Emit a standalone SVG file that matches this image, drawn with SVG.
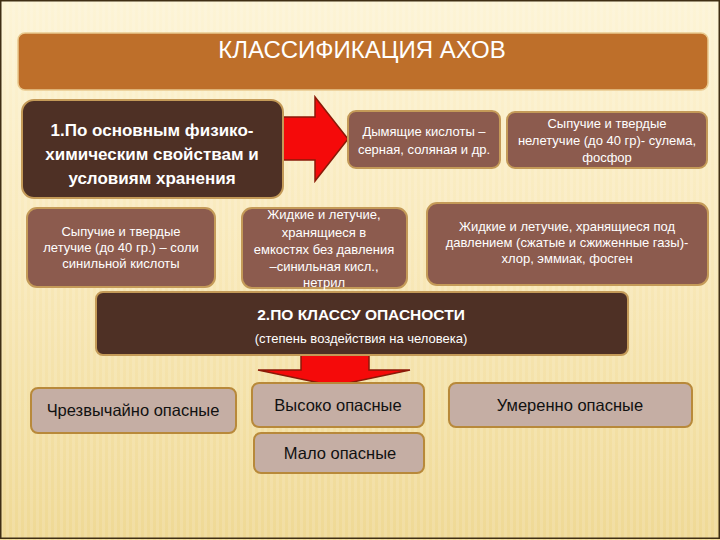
<svg xmlns="http://www.w3.org/2000/svg" width="720" height="540" viewBox="0 0 720 540">
<defs>
<linearGradient id="bg" x1="0" y1="0" x2="0" y2="1">
<stop offset="0" stop-color="#FDF4D6"/>
<stop offset="0.5" stop-color="#F8E8B8"/>
<stop offset="1" stop-color="#EFD995"/>
</linearGradient>
<pattern id="stripes" width="6" height="540" patternUnits="userSpaceOnUse">
<rect x="0" y="0" width="3" height="540" fill="#FFFFFF" opacity="0.12"/>
</pattern>
</defs>
<style>
.dark{fill:#4E3025;stroke:#C49A58;stroke-width:2}
.mid{fill:#8C5B4E;stroke:#C49A58;stroke-width:2}
.light{fill:#C5AEA4;stroke:#B8893A;stroke-width:2}
.arrow{fill:#F50A0A;stroke:#8A1A08;stroke-width:1.5}
text{font-family:"Liberation Sans",Arial,sans-serif;text-anchor:middle}
.w{fill:#FFFFFF}
.sm{font-size:13px}
.bd{font-size:17px;font-weight:bold}
.bk{fill:#111111;font-size:16.5px}
</style>
<rect x="0" y="0" width="720" height="540" fill="url(#bg)"/>
<rect x="0" y="0" width="720" height="540" fill="url(#stripes)"/>
<rect x="0.75" y="0.75" width="718.5" height="537.5" fill="none" stroke="#3F2E14" stroke-width="1.5"/>

<g id="title">
<rect x="18" y="33" width="690" height="57" rx="7" fill="#BE6F2A" stroke="#E9C98E" stroke-width="1.5"/>
<text class="w" x="362" y="58" font-size="24">КЛАССИФИКАЦИЯ АХОВ</text>
</g>

<g id="connectors">
<path class="arrow" d="M283,117 H315 V97 L348,139 L315,181 V160 H283 Z"/>
<path class="arrow" d="M301,354 H369 V370 H410 L334,386 L258,370 H301 Z"/>
</g>

<g id="n1">
<rect class="dark" x="22" y="100" width="261" height="98" rx="12"/>
<text class="w bd" x="152" y="136">1.По основным физико-</text>
<text class="w bd" x="152" y="160">химическим свойствам и</text>
<text class="w bd" x="152" y="184">условиям хранения</text>
</g>

<g id="n2">
<rect class="mid" x="348" y="111" width="152" height="57" rx="8"/>
<text class="w sm" x="424" y="136">Дымящие кислоты –</text>
<text class="w sm" x="424" y="154">серная, соляная и др.</text>
</g>

<g id="n3">
<rect class="mid" x="507" y="112" width="200" height="56" rx="8"/>
<text class="w sm" x="607" y="128">Сыпучие и твердые</text>
<text class="w sm" x="607" y="145">нелетучие (до 40 гр)- сулема,</text>
<text class="w sm" x="607" y="162">фосфор</text>
</g>

<g id="n4">
<rect class="mid" x="27" y="208" width="188" height="79" rx="10"/>
<text class="w sm" x="121" y="236">Сыпучие и твердые</text>
<text class="w sm" x="121" y="252">летучие (до 40 гр.) – соли</text>
<text class="w sm" x="121" y="268">синильной кислоты</text>
</g>

<g id="n5">
<rect class="mid" x="242" y="208" width="165" height="80" rx="10"/>
<text class="w sm" x="324" y="219">Жидкие и летучие,</text>
<text class="w sm" x="324" y="237">хранящиеся  в</text>
<text class="w sm" x="324" y="254">емкостях без давления</text>
<text class="w sm" x="324" y="271">–синильная кисл.,</text>
<text class="w sm" x="324" y="287">нетрил</text>
</g>

<g id="n6">
<rect class="mid" x="427" y="203" width="281" height="82" rx="10"/>
<text class="w sm" x="567" y="231">Жидкие и летучие, хранящиеся под</text>
<text class="w sm" x="567" y="247">давлением (сжатые и сжиженные газы)-</text>
<text class="w sm" x="567" y="263">хлор, эммиак, фосген</text>
</g>

<g id="n7">
<rect class="dark" x="96" y="292" width="532" height="63" rx="7"/>
<text class="w" x="361" y="320" font-size="15.5" font-weight="bold">2.ПО КЛАССУ ОПАСНОСТИ</text>
<text class="w sm" x="361" y="343">(степень воздействия на человека)</text>
</g>

<g id="n8">
<rect class="light" x="31" y="388" width="205" height="45" rx="7"/>
<text class="bk" x="133" y="416">Чрезвычайно опасные</text>
</g>

<g id="n9">
<rect class="light" x="252" y="383" width="172" height="44" rx="7"/>
<text class="bk" x="338" y="411">Высоко опасные</text>
</g>

<g id="n10">
<rect class="light" x="449" y="383" width="243" height="44" rx="7"/>
<text class="bk" x="570" y="411">Умеренно опасные</text>
</g>

<g id="n11">
<rect class="light" x="254" y="433" width="170" height="40" rx="7"/>
<text class="bk" x="340" y="459">Мало опасные</text>
</g>
</svg>
